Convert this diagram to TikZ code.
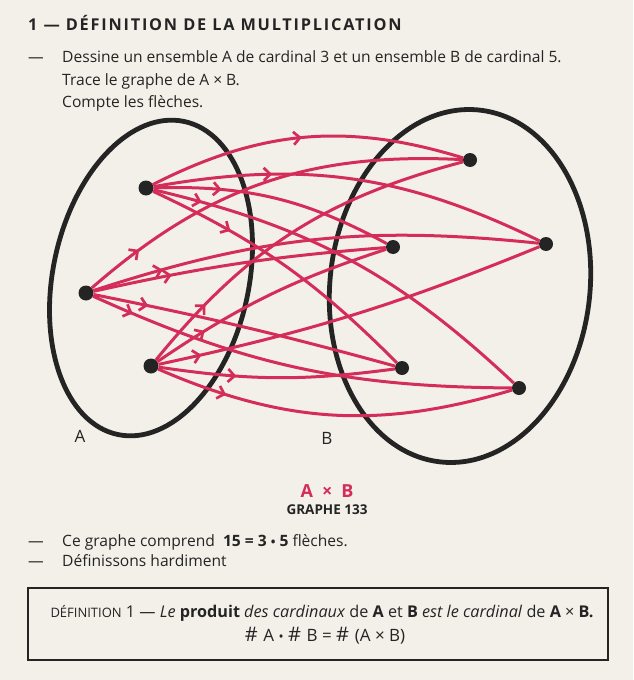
\documentclass[tikz,border=0pt]{standalone}
\usepackage{fontspec}
\setmainfont{Open Sans}
\usetikzlibrary{arrows.meta,decorations.markings}
\definecolor{paper}{RGB}{242,240,233}
\definecolor{ink}{RGB}{36,36,36}
\definecolor{rouge}{RGB}{212,45,90}
\tikzset{
  setline/.style={line width=4.8pt, draw=ink},
  pt/.style={circle, fill=ink, inner sep=0pt, minimum size=15pt},
  fl/.style={draw=rouge, line width=3pt, postaction={decorate},
    decoration={markings, mark=at position #1 with {\arrow[rouge]{Straight Barb[length=6.5pt,width=13pt,line width=2.7pt]}}}},
  txt/.style={anchor=base west, inner sep=0pt, text=ink, font=\fontsize{15.6}{18}\selectfont},
  lbl/.style={inner sep=0pt, text=ink, font=\fontsize{17}{19}\selectfont},
}
\newcommand{\card}{{\fontsize{20}{20}\selectfont$\#$}}
\newcommand{\pdot}{\scalebox{0.8}{•}}
\begin{document}
\begin{tikzpicture}[x=1pt,y=1pt]
\fill[paper] (0,0) rectangle (633,-680);
\useasboundingbox (0,0) rectangle (633,-680);
% header text
\node[txt, font=\bfseries\fontsize{16.3}{19}\selectfont\addfontfeatures{LetterSpace=11}] (title) at (28,-30) {1 — DÉFINITION DE LA MULTIPLICATION};
\node[txt] (d1) at (28,-62) {—};
\node[txt] (l1) at (62,-62) {Dessine un ensemble A de cardinal 3 et un ensemble B de cardinal 5.};
\node[txt] (l2) at (62,-85) {Trace le graphe de A × B.};
\node[txt] (l3) at (62,-107) {Compte les flèches.};
% sets
\draw[setline, rotate around={-12:(151,-278)}] (151,-278) ellipse [x radius=98, y radius=160];
\draw[setline, rotate around={-6.5:(460,-286)}] (460,-286) ellipse [x radius=130, y radius=177];
\node[lbl] (la) at (80,-436) {A};
\node[lbl] (lb) at (327,-438) {B};
% points
\node[pt] (a1) at (146,-188) {};
\node[pt] (a2) at (86,-293) {};
\node[pt] (a3) at (151,-366) {};
\node[pt, minimum size=14pt] (b1) at (470,-160) {};
\node[pt, minimum size=14pt] (b2) at (393,-247) {};
\node[pt, minimum size=14pt] (b3) at (546,-244) {};
\node[pt, minimum size=14pt] (b4) at (402,-368) {};
\node[pt, minimum size=14pt] (b5) at (519,-388) {};
% arrows
\draw[fl=0.49] (a1) to[bend left=22] (b1);
\draw[fl=0.30] (a1) to[bend left=18] (b3);
\draw[fl=0.28] (a1) to[bend left=15] (b2);
\draw[fl=0.12] (a1) to[bend left=15] (b5);
\draw[fl=0.29] (a1) to[bend left=10] (b4);
\draw[fl=0.15] (a2) to[bend left=22] (b1);
\draw[fl=0.16] (a2) to[bend left=12] (b3);
\draw[fl=0.27] (a2) to[bend left=4] (b2);
\draw[fl=0.18] (a2) to[bend left=2] (b4);
\draw[fl=0.10] (a2) to[bend right=12] (b5);
\draw[fl=0.20] (a3) to[bend left=18] (b1);
\draw[fl=0.22] (a3) to[bend left=8] (b2);
\draw[fl=0.11] (a3) to[bend right=5] (b3);
\draw[fl=0.33] (a3) to[bend right=8] (b4);
\draw[fl=0.20] (a3) to[bend right=20] (b5);
% caption
\node[inner sep=0pt, text=rouge, font=\bfseries\fontsize{18}{20}\selectfont] (cap) at (327,-491) {A\enspace×\enspace B};
\node[inner sep=0pt, text=ink, font=\bfseries\fontsize{13.5}{15}\selectfont] (gr) at (327,-510) {GRAPHE 133};
% lower text
\node[txt] (d2) at (28,-546) {—};
\node[txt] (l4) at (62,-546) {Ce graphe comprend\ \ \textbf{15 = 3 \pdot{} 5} flèches.};
\node[txt] (d3) at (28,-566) {—};
\node[txt] (l5) at (62,-566) {Définissons hardiment};
% definition box
\draw[ink, line width=1.7pt] (28,-588) rectangle (608,-660);
\node[anchor=base, inner sep=0pt, text=ink, font=\fontsize{16.2}{18}\selectfont] (def) at (322,-617)
  {{\fontsize{13}{14}\selectfont DÉFINITION} 1 — \textit{Le} \textbf{produit} \textit{des cardinaux} de \textbf{A} et \textbf{B} \textit{est le cardinal} de \textbf{A} × \textbf{B.}};
\node[anchor=base, inner sep=0pt, text=ink, font=\fontsize{17}{19}\selectfont] (form) at (325,-641)
  {\card\,\,A\ \pdot\ \card\,\,B\ =\ \card\,\,(A\ ×\ B)};
\end{tikzpicture}
\end{document}
